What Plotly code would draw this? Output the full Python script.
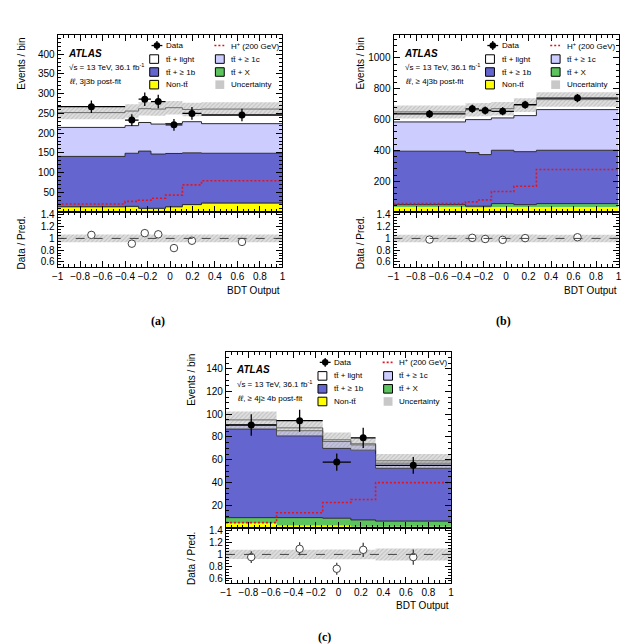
import plotly.graph_objects as go

W, H = 630, 644
FONT = "Liberation Sans"


def px(x):
    return x / W


def py(y):
    return 1 - y / H


# ---------------- data: panel (a)  ll, 3j3b ----------------
a_edges = [-1, -0.4, -0.28, -0.17, -0.04, 0.11, 0.28, 1]
a_nontt = [11.5, 12.5, 7.5, 7.5, 11.5, 17, 21]
a_ttx = [2, 2, 2, 2, 2, 2, 2]
a_tt1b = [127.5, 134.5, 145, 137.5, 135, 131, 126]
a_tt1c = [73.5, 70, 72.5, 76, 76, 79, 75]
a_ttlight = [37.5, 37, 35, 38, 40, 31, 37]
a_hplus = [20.5, 27, 30, 35, 43, 69, 79.5]
a_data = [267, 233, 286, 280, 221, 250, 246]
a_data_err = [16, 15, 17, 17, 15, 16, 16]
a_ratio = [1.06, 0.91, 1.09, 1.07, 0.835, 0.96, 0.94]
a_ratio_err = [0.065, 0.06, 0.065, 0.065, 0.06, 0.06, 0.06]
a_unc = [17, 17, 17, 17, 17, 17, 17]

# ---------------- data: panel (b)  ll, >=4j3b ----------------
b_edges = [-1, -0.36, -0.24, -0.13, 0.07, 0.27, 1]
b_nontt = [33, 30, 30, 33, 33, 33]
b_ttx = [15, 8, 8, 22, 15, 22]
b_tt1b = [347, 348, 335, 346, 344, 346]
b_tt1c = [190, 214, 227, 210, 234, 264]
b_ttlight = [65, 63, 65, 60, 68, 65]
b_hplus = [55, 66, 79, 133, 168, 276]
b_data = [637, 670, 659, 654, 697, 740]
b_data_err = [25, 26, 26, 26, 26, 27]
b_ratio = [0.98, 1.01, 0.99, 0.975, 1.005, 1.02]
b_ratio_err = [0.04, 0.04, 0.04, 0.04, 0.04, 0.04]
b_unc = [42, 43, 43, 44, 45, 47]

# ---------------- data: panel (c)  ll, >=4j>=4b ----------------
c_edges = [-1, -0.55, -0.14, 0.11, 0.33, 1]
c_nontt = [4, 2, 2, 1, 1]
c_ttx = [5, 7, 6.5, 6, 5]
c_tt1b = [78, 72, 61.5, 61.5, 46.5]
c_tt1c = [3.7, 4.5, 6, 4.5, 4.5]
c_ttlight = [4.3, 2.5, 1.5, 1, 2]
c_hplus = [4.6, 13.3, 22.3, 25, 39.8]
c_data = [90.5, 94.3, 57.9, 79.2, 55]
c_data_err = [9.5, 9.7, 7.6, 8.9, 7.4]
c_ratio = [0.955, 1.095, 0.757, 1.078, 0.955]
c_ratio_err = [0.10, 0.11, 0.10, 0.12, 0.13]
c_unc = [7.5, 7, 6.5, 6, 6]

x_ticks = [-1, -0.8, -0.6, -0.4, -0.2, 0, 0.2, 0.4, 0.6, 0.8, 1]
ratio_ticks = [0.6, 0.8, 1, 1.2, 1.4]
a_yticks = [50, 100, 150, 200, 250, 300, 350, 400]
b_yticks = [200, 400, 600, 800, 1000]
c_yticks = [20, 40, 60, 80, 100, 120, 140]

C_NONTT = "#ffff00"
C_TTX = "#5cc45c"
C_1B = "#6565cf"
C_1C = "#ccccff"
C_LIGHT = "#ffffff"
C_UNC = "rgba(150,150,150,0.45)"
C_HP = "#e3141e"
HP_DASH = "2px,2px"

fig = go.Figure()


def steps(edges, vals):
    return list(edges), list(vals) + [vals[-1]]


def cumulative(lists):
    out = []
    run = [0] * len(lists[0])
    for l in lists:
        run = [r + v for r, v in zip(run, l)]
        out.append(run)
    return out


def add_panel(edges, comps, hplus, data, derr, ratio, rerr, unc, xm, ym, xr, yr):
    colors = [C_NONTT, C_TTX, C_1B, C_1C, C_LIGHT]
    cums = cumulative(comps)
    for i, (c, col) in enumerate(zip(cums, colors)):
        x, y = steps(edges, c)
        fig.add_trace(go.Scatter(x=x, y=y, mode="lines",
                                 line=dict(width=0, shape="hv"),
                                 fill="tozeroy" if i == 0 else "tonexty",
                                 fillcolor=col, xaxis=xm, yaxis=ym,
                                 hoverinfo="skip"))
    for c in cums[1:]:
        x, y = steps(edges, c)
        fig.add_trace(go.Scatter(x=x, y=y, mode="lines",
                                 line=dict(width=1, color="#2a2a2a", shape="hv"),
                                 xaxis=xm, yaxis=ym, hoverinfo="skip"))
    total = cums[-1]
    lo = [t - u for t, u in zip(total, unc)]
    hi = [t + u for t, u in zip(total, unc)]
    x, y = steps(edges, lo)
    fig.add_trace(go.Scatter(x=x, y=y, mode="lines", line=dict(width=0, shape="hv"),
                             xaxis=xm, yaxis=ym, hoverinfo="skip"))
    x, y = steps(edges, hi)
    fig.add_trace(go.Scatter(x=x, y=y, mode="lines", line=dict(width=0, shape="hv"),
                             fill="tonexty", fillcolor=C_UNC,
                             fillpattern=dict(shape="/", fgcolor="rgba(110,110,110,0.55)",
                                              bgcolor="rgba(185,185,185,0.45)",
                                              size=3, solidity=0.35),
                             xaxis=xm, yaxis=ym, hoverinfo="skip"))
    # H+ signal
    x, y = steps(edges, hplus)
    fig.add_trace(go.Scatter(x=x, y=y, mode="lines",
                             line=dict(width=1.6, color=C_HP, shape="hv", dash=HP_DASH),
                             xaxis=xm, yaxis=ym, hoverinfo="skip"))
    centers = [(edges[i] + edges[i + 1]) / 2 for i in range(len(edges) - 1)]
    halfw = [(edges[i + 1] - edges[i]) / 2 for i in range(len(edges) - 1)]
    fig.add_trace(go.Scatter(x=centers, y=data, mode="markers",
                             marker=dict(color="black", size=7),
                             error_y=dict(type="data", array=derr, thickness=1.3, width=0, color="black"),
                             error_x=dict(type="data", array=halfw, thickness=1.3, width=0, color="black"),
                             xaxis=xm, yaxis=ym, hoverinfo="skip"))
    # ratio
    rel = [u / t for u, t in zip(unc, total)]
    x, y = steps(edges, [1 - r for r in rel])
    fig.add_trace(go.Scatter(x=x, y=y, mode="lines", line=dict(width=0, shape="hv"),
                             xaxis=xr, yaxis=yr, hoverinfo="skip"))
    x, y = steps(edges, [1 + r for r in rel])
    fig.add_trace(go.Scatter(x=x, y=y, mode="lines", line=dict(width=0, shape="hv"),
                             fill="tonexty", fillcolor=C_UNC,
                             fillpattern=dict(shape="/", fgcolor="rgba(110,110,110,0.55)",
                                              bgcolor="rgba(185,185,185,0.45)",
                                              size=3, solidity=0.35),
                             xaxis=xr, yaxis=yr, hoverinfo="skip"))
    fig.add_shape(type="line", xref=xr, yref=yr, x0=-1, x1=1, y0=1, y1=1,
                  line=dict(color="#444444", width=1, dash="dash"))
    fig.add_trace(go.Scatter(x=centers, y=ratio, mode="markers",
                             marker=dict(color="white", size=7.5, symbol="circle",
                                         line=dict(color="#444444", width=1)),
                             error_y=dict(type="data", array=rerr, thickness=1.2, width=0, color="#333333"),
                             xaxis=xr, yaxis=yr, hoverinfo="skip"))


add_panel(a_edges, [a_nontt, a_ttx, a_tt1b, a_tt1c, a_ttlight], a_hplus, a_data, a_data_err,
          a_ratio, a_ratio_err, a_unc, "x", "y", "x2", "y2")
add_panel(b_edges, [b_nontt, b_ttx, b_tt1b, b_tt1c, b_ttlight], b_hplus, b_data, b_data_err,
          b_ratio, b_ratio_err, b_unc, "x3", "y3", "x4", "y4")
add_panel(c_edges, [c_nontt, c_ttx, c_tt1b, c_tt1c, c_ttlight], c_hplus, c_data, c_data_err,
          c_ratio, c_ratio_err, c_unc, "x5", "y5", "x6", "y6")

# ---------------- axes ----------------
TICKFONT = dict(family=FONT, size=10, color="black")


def xaxis(domain, anchor, labels):
    return dict(domain=domain, anchor=anchor, range=[-1, 1], tickvals=x_ticks,
                showticklabels=labels, ticks="inside", ticklen=6, tickwidth=1,
                tickcolor="black", showline=True, linecolor="black", linewidth=1,
                mirror="allticks", showgrid=False, zeroline=False, tickfont=TICKFONT,
                minor=dict(ticks="inside", ticklen=3, dtick=0.05, tick0=-1, tickcolor="black"))


def yaxis(domain, anchor, rng, tickvals, minor):
    return dict(domain=domain, anchor=anchor, range=rng, tickvals=tickvals,
                ticks="inside", ticklen=6, tickwidth=1, tickcolor="black",
                showline=True, linecolor="black", linewidth=1, mirror="allticks",
                showgrid=False, zeroline=False, tickfont=TICKFONT,
                minor=dict(ticks="inside", ticklen=3, dtick=minor, tick0=0, tickcolor="black"))


ax_a = [px(44.3), px(272.3)]
ax_b = [px(385), px(613.3)]
ax_c = [px(215), px(443.3)]
main_ab = [py(202), py(24)]
rat_ab = [py(257.3), py(202)]
main_c = [py(519.3), py(342.3)]
rat_c = [py(575), py(519.3)]
RATIO_RANGE = [0.51, 1.45]

layout_axes = dict(
    xaxis=xaxis(ax_a, "y", False), yaxis=yaxis(main_ab, "x", [0, 449], a_yticks, 10),
    xaxis2=xaxis(ax_a, "y2", True), yaxis2=yaxis(rat_ab, "x2", RATIO_RANGE, ratio_ticks, 0.05),
    xaxis3=xaxis(ax_b, "y3", False), yaxis3=yaxis(main_ab, "x3", [0, 1150], b_yticks, 40),
    xaxis4=xaxis(ax_b, "y4", True), yaxis4=yaxis(rat_ab, "x4", RATIO_RANGE, ratio_ticks, 0.05),
    xaxis5=xaxis(ax_c, "y5", False), yaxis5=yaxis(main_c, "x5", [0, 155], c_yticks, 5),
    xaxis6=xaxis(ax_c, "y6", True), yaxis6=yaxis(rat_c, "x6", RATIO_RANGE, ratio_ticks, 0.05),
)

annotations = []
shapes = []


def text(x, y, s, size=8, xanchor="left", yanchor="middle", angle=0, family=FONT, color="black"):
    annotations.append(dict(x=px(x), y=py(y), xref="paper", yref="paper", text=s,
                            showarrow=False, xanchor=xanchor, yanchor=yanchor,
                            textangle=angle, font=dict(family=family, size=size, color=color)))


TT = "tt\u0304"


def legend_block(x0, y0, region):
    rows = [10.7, 24.3, 37.3, 50.0]
    # ATLAS labels
    text(x0 + 8.5, y0 + 18.3, "<b><i>ATLAS</i></b>", size=10)
    text(x0 + 9.5, y0 + 32.3, "\u221as = 13 TeV, 36.1 fb<sup>-1</sup>", size=8)
    text(x0 + 9.5, y0 + 47.3, "<i>\u2113\u2113</i>, " + region + " post-fit", size=8)
    # Data marker
    cx, cy = x0 + 100.7, y0 + rows[0]
    shapes.append(dict(type="line", xref="paper", yref="paper", x0=px(cx - 5.5), x1=px(cx + 5.5),
                       y0=py(cy), y1=py(cy), line=dict(color="black", width=1.3)))
    shapes.append(dict(type="line", xref="paper", yref="paper", x0=px(cx), x1=px(cx),
                       y0=py(cy - 4.5), y1=py(cy + 4.5), line=dict(color="black", width=1.3)))
    shapes.append(dict(type="circle", xref="paper", yref="paper", x0=px(cx - 3.3), x1=px(cx + 3.3),
                       y0=py(cy + 3.3), y1=py(cy - 3.3), fillcolor="black", line=dict(width=0)))
    text(x0 + 108, cy, "Data")
    # H+
    shapes.append(dict(type="line", xref="paper", yref="paper", x0=px(x0 + 159), x1=px(x0 + 169),
                       y0=py(y0 + rows[0]), y1=py(y0 + rows[0]),
                       line=dict(color=C_HP, width=1.6, dash=HP_DASH)))
    text(x0 + 174, y0 + rows[0], "H<sup>+</sup> (200 GeV)")
    boxes = [
        (93.4, rows[1], C_LIGHT, TT + " + light", 108),
        (93.4, rows[2], C_1B, TT + " + \u2265 1b", 108),
        (93.4, rows[3], C_NONTT, "Non-" + TT, 108),
        (160, rows[1], C_1C, TT + " + \u2265 1c", 174),
        (160, rows[2], C_TTX, TT + " + X", 174),
        (160, rows[3], "rgb(200,200,200)", "Uncertainty", 174),
    ]
    for bx, by, col, lab, tx in boxes:
        lc = "rgba(0,0,0,0)" if lab == "Uncertainty" else "black"
        shapes.append(dict(type="rect", xref="paper", yref="paper",
                           x0=px(x0 + bx), x1=px(x0 + bx + 9),
                           y0=py(y0 + by + 4.3), y1=py(y0 + by - 4.3),
                           fillcolor=col, line=dict(color=lc, width=1)))
        text(x0 + tx, y0 + by, lab)


legend_block(44.3, 24, "3j3b")
legend_block(385, 24, "\u2265 4j3b")
legend_block(215, 342.3, "\u2265 4j\u2265 4b")

# axis titles
for xl, ytop_main, ytop_rat, xright, ybdt in [(8, 25, 204, 272.3, 280.5),
                                               (351.7, 25, 204, 613.3, 280.5),
                                               (180, 342, 521.5, 443.3, 597.5)]:
    text(xl, ytop_main, "Events / bin", size=10, xanchor="center", yanchor="top", angle=-90)
    text(xl, ytop_rat, "Data / Pred.", size=10, xanchor="center", yanchor="top", angle=-90)
    text(xright, ybdt, "BDT Output", size=10, xanchor="right")

# captions
text(146.5, 311, "<b>(a)</b>", size=12, xanchor="center", family="Liberation Serif")
text(496.5, 311, "<b>(b)</b>", size=12, xanchor="center", family="Liberation Serif")
text(314.5, 629, "<b>(c)</b>", size=12, xanchor="center", family="Liberation Serif")

fig.update_layout(
    width=W, height=H, margin=dict(l=0, r=0, t=0, b=0),
    paper_bgcolor="white", plot_bgcolor="white", showlegend=False,
    annotations=annotations, **layout_axes,
)
for s in shapes:
    fig.add_shape(**s)

fig.write_html("out.html")
